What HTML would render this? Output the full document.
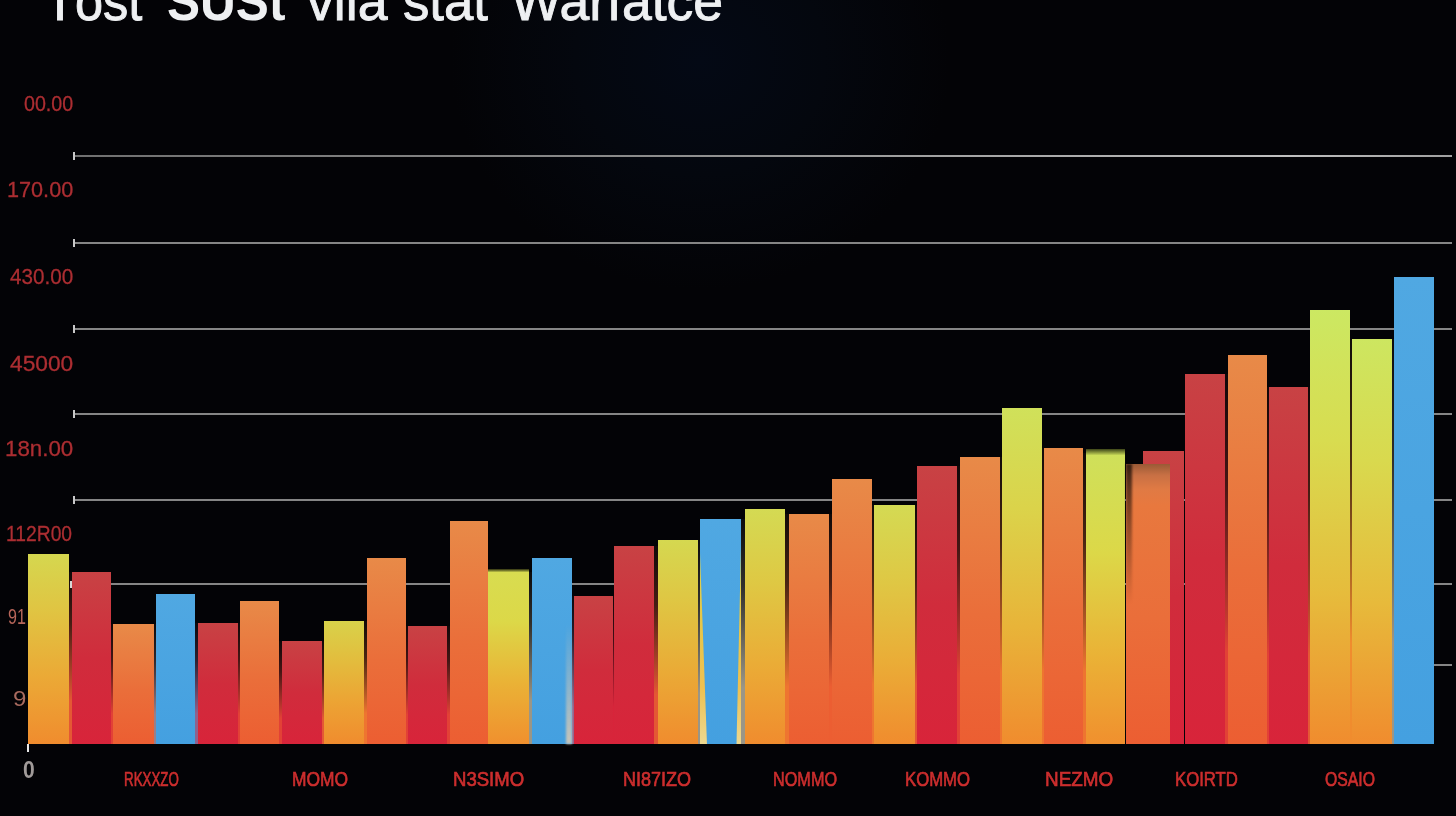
<!DOCTYPE html>
<html><head><meta charset="utf-8"><style>
html,body{margin:0;padding:0;}
body{width:1456px;height:816px;overflow:hidden;position:relative;background:#030306;font-family:"Liberation Sans",sans-serif;}
.glow{position:absolute;left:0;top:0;width:1456px;height:816px;background:radial-gradient(ellipse 250px 230px at 700px 60px,#040915 0%,#04070e 50%,rgba(3,3,6,0) 100%);}
.title{position:absolute;left:45px;top:-30px;font-size:54px;color:#eef0f2;white-space:nowrap;-webkit-text-stroke:0.9px #eef0f2;}
.title b{font-weight:bold;-webkit-text-stroke:0}
.gl{position:absolute;height:2px;background:#858585;}
.tk{position:absolute;width:2px;height:8px;background:#c8c8c8}
.bar{position:absolute;}
.t{position:absolute;white-space:nowrap;transform-origin:0 0;}
.axt{position:absolute;left:27px;top:744px;width:2px;height:8px;background:#e8e8e8}
</style></head><body>
<div class="glow"></div>

<div class="gl" style="top:155px;left:73px;width:1379px;background:linear-gradient(90deg,#707070 0%,#8a8a8a 40%,#b4b4b4 80%,#c0c0c0 88%,#a0a0a0 100%)"></div><div class="tk" style="top:152px;left:73px"></div><div class="gl" style="top:242px;left:73px;width:1379px"></div><div class="tk" style="top:239px;left:73px"></div><div class="gl" style="top:328px;left:73px;width:1379px"></div><div class="tk" style="top:325px;left:73px"></div><div class="gl" style="top:413px;left:73px;width:1379px"></div><div class="tk" style="top:410px;left:73px"></div><div class="gl" style="top:499px;left:73px;width:1379px"></div><div class="tk" style="top:496px;left:73px"></div><div class="gl" style="top:583px;left:73px;width:1379px"></div><div class="gl" style="top:664px;left:1434px;width:18px"></div>
<div class="bar" style="left:69px;top:572px;width:3px;height:172px;background:linear-gradient(180deg,rgba(4,4,6,.95) 0%,rgba(4,4,6,.7) 30%,rgba(4,4,6,0) 75%),#e45834"></div><div class="bar" style="left:111px;top:624px;width:2px;height:120px;background:linear-gradient(180deg,rgba(4,4,6,.95) 0%,rgba(4,4,6,.7) 30%,rgba(4,4,6,0) 75%),#e24136"></div><div class="bar" style="left:154px;top:624px;width:2px;height:120px;background:linear-gradient(180deg,rgba(4,4,6,.95) 0%,rgba(4,4,6,.7) 30%,rgba(4,4,6,0) 75%),#987f89"></div><div class="bar" style="left:195px;top:623px;width:3px;height:121px;background:linear-gradient(180deg,rgba(4,4,6,.95) 0%,rgba(4,4,6,.7) 30%,rgba(4,4,6,0) 75%),#8e628d"></div><div class="bar" style="left:238px;top:623px;width:2px;height:121px;background:linear-gradient(180deg,rgba(4,4,6,.95) 0%,rgba(4,4,6,.7) 30%,rgba(4,4,6,0) 75%),#e24136"></div><div class="bar" style="left:279px;top:641px;width:3px;height:103px;background:linear-gradient(180deg,rgba(4,4,6,.95) 0%,rgba(4,4,6,.7) 30%,rgba(4,4,6,0) 75%),#e24136"></div><div class="bar" style="left:322px;top:641px;width:2px;height:103px;background:linear-gradient(180deg,rgba(4,4,6,.95) 0%,rgba(4,4,6,.7) 30%,rgba(4,4,6,0) 75%),#e45834"></div><div class="bar" style="left:364px;top:621px;width:3px;height:123px;background:linear-gradient(180deg,rgba(4,4,6,.95) 0%,rgba(4,4,6,.7) 30%,rgba(4,4,6,0) 75%),#ee7530"></div><div class="bar" style="left:406px;top:626px;width:2px;height:118px;background:linear-gradient(180deg,rgba(4,4,6,.95) 0%,rgba(4,4,6,.7) 30%,rgba(4,4,6,0) 75%),#e24136"></div><div class="bar" style="left:447px;top:626px;width:3px;height:118px;background:linear-gradient(180deg,rgba(4,4,6,.95) 0%,rgba(4,4,6,.7) 30%,rgba(4,4,6,0) 75%),#e24136"></div><div class="bar" style="left:529px;top:572px;width:3px;height:172px;background:linear-gradient(180deg,rgba(4,4,6,.95) 0%,rgba(4,4,6,.7) 30%,rgba(4,4,6,0) 75%),#9a9687"></div><div class="bar" style="left:572px;top:596px;width:2px;height:148px;background:linear-gradient(180deg,rgba(4,4,6,.95) 0%,rgba(4,4,6,.7) 30%,rgba(4,4,6,0) 75%),#8e628d"></div><div class="bar" style="left:613px;top:596px;width:1px;height:148px;background:linear-gradient(180deg,rgba(4,4,6,.95) 0%,rgba(4,4,6,.7) 30%,rgba(4,4,6,0) 75%),#d8243a"></div><div class="bar" style="left:654px;top:546px;width:4px;height:198px;background:linear-gradient(180deg,rgba(4,4,6,.95) 0%,rgba(4,4,6,.7) 30%,rgba(4,4,6,0) 75%),#e45834"></div><div class="bar" style="left:698px;top:540px;width:2px;height:204px;background:linear-gradient(180deg,rgba(4,4,6,.95) 0%,rgba(4,4,6,.7) 30%,rgba(4,4,6,0) 75%),#9a9687"></div><div class="bar" style="left:741px;top:519px;width:4px;height:225px;background:linear-gradient(180deg,rgba(4,4,6,.95) 0%,rgba(4,4,6,.7) 30%,rgba(4,4,6,0) 75%),#9a9687"></div><div class="bar" style="left:785px;top:514px;width:4px;height:230px;background:linear-gradient(180deg,rgba(4,4,6,.95) 0%,rgba(4,4,6,.7) 30%,rgba(4,4,6,0) 75%),#ee7530"></div><div class="bar" style="left:829px;top:514px;width:3px;height:230px;background:linear-gradient(180deg,rgba(4,4,6,.95) 0%,rgba(4,4,6,.7) 30%,rgba(4,4,6,0) 75%),#ec5e32"></div><div class="bar" style="left:872px;top:505px;width:2px;height:239px;background:linear-gradient(180deg,rgba(4,4,6,.95) 0%,rgba(4,4,6,.7) 30%,rgba(4,4,6,0) 75%),#ee7530"></div><div class="bar" style="left:915px;top:505px;width:2px;height:239px;background:linear-gradient(180deg,rgba(4,4,6,.95) 0%,rgba(4,4,6,.7) 30%,rgba(4,4,6,0) 75%),#e45834"></div><div class="bar" style="left:957px;top:466px;width:3px;height:278px;background:linear-gradient(180deg,rgba(4,4,6,.95) 0%,rgba(4,4,6,.7) 30%,rgba(4,4,6,0) 75%),#e24136"></div><div class="bar" style="left:1000px;top:457px;width:2px;height:287px;background:linear-gradient(180deg,rgba(4,4,6,.95) 0%,rgba(4,4,6,.7) 30%,rgba(4,4,6,0) 75%),#ee7530"></div><div class="bar" style="left:1042px;top:448px;width:2px;height:296px;background:linear-gradient(180deg,rgba(4,4,6,.95) 0%,rgba(4,4,6,.7) 30%,rgba(4,4,6,0) 75%),#ee7530"></div><div class="bar" style="left:1083px;top:453px;width:3px;height:291px;background:linear-gradient(180deg,rgba(4,4,6,.95) 0%,rgba(4,4,6,.7) 30%,rgba(4,4,6,0) 75%),#ee7530"></div><div class="bar" style="left:1225px;top:374px;width:3px;height:370px;background:linear-gradient(180deg,rgba(4,4,6,.95) 0%,rgba(4,4,6,.7) 30%,rgba(4,4,6,0) 75%),#e24136"></div><div class="bar" style="left:1267px;top:387px;width:2px;height:357px;background:linear-gradient(180deg,rgba(4,4,6,.95) 0%,rgba(4,4,6,.7) 30%,rgba(4,4,6,0) 75%),#e24136"></div><div class="bar" style="left:1308px;top:387px;width:2px;height:357px;background:linear-gradient(180deg,rgba(4,4,6,.95) 0%,rgba(4,4,6,.7) 30%,rgba(4,4,6,0) 75%),#e45834"></div><div class="bar" style="left:1350px;top:339px;width:2px;height:405px;background:linear-gradient(180deg,rgba(4,4,6,.95) 0%,rgba(4,4,6,.7) 30%,rgba(4,4,6,0) 75%),#f08c2e"></div><div class="bar" style="left:1392px;top:339px;width:2px;height:405px;background:linear-gradient(180deg,rgba(4,4,6,.95) 0%,rgba(4,4,6,.7) 30%,rgba(4,4,6,0) 75%),#9a9687"></div><div class="bar" style="left:28px;top:554px;width:41px;height:190px;background:linear-gradient(180deg,#d5d74f 0%,#e0c442 30%,#eba936 65%,#f08c2e 100%);"></div><div class="bar" style="left:72px;top:572px;width:39px;height:172px;background:linear-gradient(180deg,#c84244 0%,#d02c3c 50%,#d8243a 100%);"></div><div class="bar" style="left:113px;top:624px;width:41px;height:120px;background:linear-gradient(180deg,#e88a48 0%,#ea6e3a 55%,#ec5e32 100%);"></div><div class="bar" style="left:156px;top:594px;width:39px;height:150px;background:linear-gradient(180deg,#50a8e2 0%,#44a0e0 100%);"></div><div class="bar" style="left:198px;top:623px;width:40px;height:121px;background:linear-gradient(180deg,#c84244 0%,#d02c3c 50%,#d8243a 100%);"></div><div class="bar" style="left:240px;top:601px;width:39px;height:143px;background:linear-gradient(180deg,#e88a48 0%,#ea6e3a 55%,#ec5e32 100%);"></div><div class="bar" style="left:282px;top:641px;width:40px;height:103px;background:linear-gradient(180deg,#c84244 0%,#d02c3c 50%,#d8243a 100%);"></div><div class="bar" style="left:324px;top:621px;width:40px;height:123px;background:linear-gradient(180deg,#d8d24a 0%,#e2be3e 30%,#eca434 65%,#f08c2e 100%);"></div><div class="bar" style="left:367px;top:558px;width:39px;height:186px;background:linear-gradient(180deg,#e88a48 0%,#ea6e3a 55%,#ec5e32 100%);"></div><div class="bar" style="left:408px;top:626px;width:39px;height:118px;background:linear-gradient(180deg,#c84244 0%,#d02c3c 50%,#d8243a 100%);"></div><div class="bar" style="left:450px;top:521px;width:38px;height:223px;background:linear-gradient(180deg,#e88a48 0%,#ea6e3a 55%,#ec5e32 100%);"></div><div class="bar" style="left:488px;top:569px;width:41px;height:175px;background:linear-gradient(180deg,#2a2c10 0%,#d8dc50 2%,#dcd848 30%,#eab236 65%,#f0902e 100%);"></div><div class="bar" style="left:532px;top:558px;width:40px;height:186px;background:linear-gradient(180deg,#50a8e2 0%,#44a0e0 100%);"><div style="position:absolute;right:0;bottom:0;width:6px;height:120px;background:linear-gradient(180deg,rgba(200,200,190,0),#c8c4b8);filter:blur(1px)"></div></div><div class="bar" style="left:574px;top:596px;width:39px;height:148px;background:linear-gradient(180deg,#c84244 0%,#d02c3c 50%,#d8243a 100%);"></div><div class="bar" style="left:614px;top:546px;width:40px;height:198px;background:linear-gradient(180deg,#c84244 0%,#d02c3c 50%,#d8243a 100%);"></div><div class="bar" style="left:658px;top:540px;width:40px;height:204px;background:linear-gradient(180deg,#d5d850 0%,#dfc643 30%,#eaaa36 65%,#f08c2e 100%);"></div><div class="bar" style="left:700px;top:519px;width:41px;height:225px;background:linear-gradient(180deg,#d8dc50 0%,#e4c848 40%,#eec050 75%,#ecd890 100%);"><div style="position:absolute;inset:0;background:linear-gradient(180deg,#50a8e2 0%,#44a0e0 100%);clip-path:polygon(0 0,100% 0,100% 12%,89% 100%,17% 100%,0 15%);filter:blur(0.7px)"></div></div><div class="bar" style="left:745px;top:509px;width:40px;height:235px;background:linear-gradient(180deg,#d4da53 0%,#dec944 30%,#eaad37 65%,#f08c2e 100%);"></div><div class="bar" style="left:789px;top:514px;width:40px;height:230px;background:linear-gradient(180deg,#e88a48 0%,#ea6e3a 55%,#ec5e32 100%);"></div><div class="bar" style="left:832px;top:479px;width:40px;height:265px;background:linear-gradient(180deg,#e88a48 0%,#ea6e3a 55%,#ec5e32 100%);"></div><div class="bar" style="left:874px;top:505px;width:41px;height:239px;background:linear-gradient(180deg,#d4da53 0%,#dec945 30%,#eaad37 65%,#f08c2e 100%);"></div><div class="bar" style="left:917px;top:466px;width:40px;height:278px;background:linear-gradient(180deg,#c84244 0%,#d02c3c 50%,#d8243a 100%);"></div><div class="bar" style="left:960px;top:457px;width:40px;height:287px;background:linear-gradient(180deg,#e88a48 0%,#ea6e3a 55%,#ec5e32 100%);"></div><div class="bar" style="left:1002px;top:408px;width:40px;height:336px;background:linear-gradient(180deg,#d0e15a 0%,#dbd34a 30%,#e8b439 65%,#f08c2e 100%);"></div><div class="bar" style="left:1044px;top:448px;width:39px;height:296px;background:linear-gradient(180deg,#e88a48 0%,#ea6e3a 55%,#ec5e32 100%);"></div><div class="bar" style="left:1086px;top:449px;width:39px;height:295px;background:linear-gradient(180deg,#3c4418 0%,#cfe05a 2.2%,#dcd848 35%,#eab236 70%,#f0902e 100%);"></div><div class="bar" style="left:1143px;top:451px;width:41px;height:293px;background:linear-gradient(180deg,#c84244 0%,#d02c3c 50%,#d8243a 100%);"></div><div class="bar" style="left:1126px;top:464px;width:44px;height:280px;background:linear-gradient(180deg,#9a5a36 0%,#c87044 4%,#e07a44 9%,#e8783e 15%,#ea6e3a 55%,#ec5e32 100%);"><div style="position:absolute;left:0;top:0;bottom:0;width:6px;background:linear-gradient(180deg,rgba(20,10,5,.75),rgba(20,10,5,.35) 25%,rgba(20,10,5,0) 50%);filter:blur(1px)"></div></div><div class="bar" style="left:1185px;top:374px;width:40px;height:370px;background:linear-gradient(180deg,#c84244 0%,#d02c3c 50%,#d8243a 100%);"></div><div class="bar" style="left:1228px;top:355px;width:39px;height:389px;background:linear-gradient(180deg,#e88a48 0%,#ea6e3a 55%,#ec5e32 100%);"></div><div class="bar" style="left:1269px;top:387px;width:39px;height:357px;background:linear-gradient(180deg,#c84244 0%,#d02c3c 50%,#d8243a 100%);"></div><div class="bar" style="left:1310px;top:310px;width:40px;height:434px;background:linear-gradient(180deg,#cce862 0%,#d8dc50 30%,#e6bc3c 65%,#f08c2e 100%);"></div><div class="bar" style="left:1352px;top:339px;width:40px;height:405px;background:linear-gradient(180deg,#cde660 0%,#d9d94e 30%,#e7ba3b 65%,#f08c2e 100%);"></div><div class="bar" style="left:1394px;top:277px;width:40px;height:467px;background:linear-gradient(180deg,#50a8e2 0%,#44a0e0 100%);"></div>
<div class="axt"></div><div class="tk" style="left:70px;top:581px;height:7px;width:2px;background:#d8d8d8"></div>
<div class="t" style="left:43.40px;top:-25.91px;font-size:54px;line-height:54px;font-weight:normal;color:#eef0f2;transform:scaleX(1.0000);-webkit-text-stroke:0.9px #eef0f2;">T</div><div class="t" style="left:75.33px;top:-25.91px;font-size:54px;line-height:54px;font-weight:normal;color:#eef0f2;transform:scaleX(0.9353);-webkit-text-stroke:0.9px #eef0f2;">ost</div><div class="t" style="left:166.58px;top:-25.91px;font-size:54px;line-height:54px;font-weight:bold;color:#eef0f2;transform:scaleX(0.9177);">SUSt</div><div class="t" style="left:306.60px;top:-25.91px;font-size:54px;line-height:54px;font-weight:normal;color:#eef0f2;transform:scaleX(0.9928);-webkit-text-stroke:0.9px #eef0f2;">vila</div><div class="t" style="left:403.02px;top:-25.91px;font-size:54px;line-height:54px;font-weight:normal;color:#eef0f2;transform:scaleX(0.9763);-webkit-text-stroke:0.9px #eef0f2;">stat</div><div class="t" style="left:511.00px;top:-25.91px;font-size:54px;line-height:54px;font-weight:normal;color:#eef0f2;transform:scaleX(0.9905);-webkit-text-stroke:0.9px #eef0f2;">Warfatce</div><div class="t" style="left:24.00px;top:93.38px;font-size:22px;line-height:22px;font-weight:normal;color:#ac2e32;transform:scaleX(0.8939);-webkit-text-stroke:0.3px #ac2e32;">00.00</div><div class="t" style="left:7.02px;top:179.38px;font-size:22px;line-height:22px;font-weight:normal;color:#ac2e32;transform:scaleX(0.9840);-webkit-text-stroke:0.3px #ac2e32;">170.00</div><div class="t" style="left:10.00px;top:266.38px;font-size:22px;line-height:22px;font-weight:normal;color:#ac2e32;transform:scaleX(0.9395);-webkit-text-stroke:0.3px #ac2e32;">430.00</div><div class="t" style="left:10.00px;top:353.38px;font-size:22px;line-height:22px;font-weight:normal;color:#ac2e32;transform:scaleX(1.0338);-webkit-text-stroke:0.3px #ac2e32;">45000</div><div class="t" style="left:4.99px;top:438.38px;font-size:22px;line-height:22px;font-weight:normal;color:#ac2e32;transform:scaleX(1.0143);-webkit-text-stroke:0.3px #ac2e32;">18n.00</div><div class="t" style="left:6.12px;top:523.38px;font-size:22px;line-height:22px;font-weight:normal;color:#ac2e32;transform:scaleX(0.8761);-webkit-text-stroke:0.3px #ac2e32;">112R00</div><div class="t" style="left:8.27px;top:606.38px;font-size:22px;line-height:22px;font-weight:normal;color:#b8665a;transform:scaleX(0.7316);">91</div><div class="t" style="left:12.91px;top:688.38px;font-size:22px;line-height:22px;font-weight:normal;color:#a86a5e;transform:scaleX(1.0909);">9</div><div class="t" style="left:23.00px;top:758.53px;font-size:23px;line-height:23px;font-weight:bold;color:#a09a98;transform:scaleX(0.9167);">0</div><div class="t" style="left:124.36px;top:768.22px;font-size:21px;line-height:21px;font-weight:normal;color:#cc2e2e;transform:scaleX(0.6352);-webkit-text-stroke:0.7px #cc2e2e;">RKXXZO</div><div class="t" style="left:292.17px;top:768.22px;font-size:21px;line-height:21px;font-weight:normal;color:#cc2e2e;transform:scaleX(0.8293);-webkit-text-stroke:0.7px #cc2e2e;">MOMO</div><div class="t" style="left:453.12px;top:768.22px;font-size:21px;line-height:21px;font-weight:normal;color:#cc2e2e;transform:scaleX(0.8841);-webkit-text-stroke:0.7px #cc2e2e;">N3SIMO</div><div class="t" style="left:623.14px;top:768.22px;font-size:21px;line-height:21px;font-weight:normal;color:#cc2e2e;transform:scaleX(0.8587);-webkit-text-stroke:0.7px #cc2e2e;">NI87IZO</div><div class="t" style="left:773.23px;top:768.22px;font-size:21px;line-height:21px;font-weight:normal;color:#cc2e2e;transform:scaleX(0.7731);-webkit-text-stroke:0.7px #cc2e2e;">NOMMO</div><div class="t" style="left:905.20px;top:768.22px;font-size:21px;line-height:21px;font-weight:normal;color:#cc2e2e;transform:scaleX(0.7967);-webkit-text-stroke:0.7px #cc2e2e;">KOMMO</div><div class="t" style="left:1045.10px;top:768.22px;font-size:21px;line-height:21px;font-weight:normal;color:#cc2e2e;transform:scaleX(0.8994);-webkit-text-stroke:0.7px #cc2e2e;">NEZMO</div><div class="t" style="left:1175.20px;top:768.22px;font-size:21px;line-height:21px;font-weight:normal;color:#cc2e2e;transform:scaleX(0.7970);-webkit-text-stroke:0.7px #cc2e2e;">KOIRTD</div><div class="t" style="left:1325.25px;top:768.22px;font-size:21px;line-height:21px;font-weight:normal;color:#cc2e2e;transform:scaleX(0.7517);-webkit-text-stroke:0.7px #cc2e2e;">OSAIO</div>
</body></html>
